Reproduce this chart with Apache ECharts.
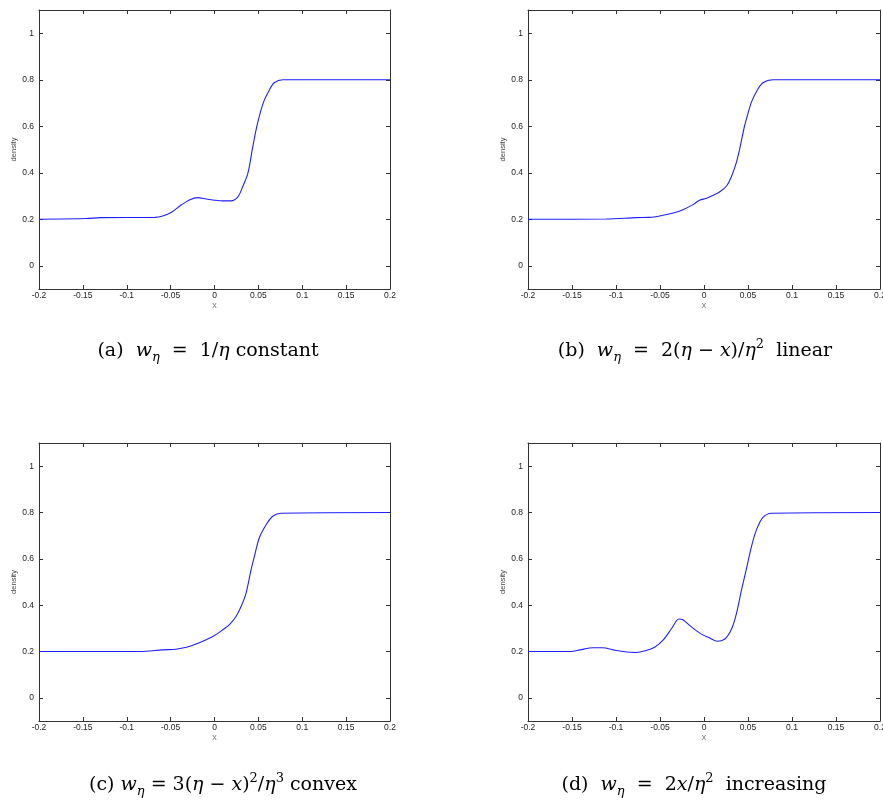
<!DOCTYPE html>
<html>
<head>
<meta charset="utf-8">
<script src="https://cdn.jsdelivr.net/npm/echarts@6/dist/echarts.min.js"></script>
<style>html,body{margin:0;padding:0;background:#fff}#c{width:883px;height:804px}</style>
</head>
<body>
<div id="c"></div>
<script>
// ---- data ----
const xA = [-0.2,-0.146,-0.13,-0.068,-0.059,-0.049,-0.038,-0.028,-0.019,-0.0095,0,0.0095,0.019,0.0266,0.032,0.038,0.0436,0.049,0.056,0.0626,0.068,0.078,0.2];
const yA = [0.2,0.203,0.207,0.208,0.214,0.230,0.261,0.284,0.293,0.287,0.282,0.279,0.279,0.296,0.339,0.397,0.511,0.612,0.705,0.756,0.787,0.800,0.8];

const xB = [-0.2,-0.111,-0.077,-0.062,-0.048,-0.035,-0.024,-0.012,-0.005,0.003,0.0104,0.018,0.0256,0.031,0.037,0.041,0.046,0.050,0.054,0.0600,0.067,0.0787,0.2];
const yB = [0.2,0.201,0.207,0.208,0.216,0.227,0.241,0.264,0.282,0.290,0.303,0.318,0.343,0.382,0.447,0.510,0.600,0.655,0.705,0.752,0.787,0.800,0.8];

const xC = [-0.2,-0.085,-0.059,-0.044,-0.032,-0.021,-0.0095,0,0.0095,0.017,0.0247,0.0304,0.036,0.0417,0.0455,0.051,0.059,0.0664,0.076,0.2];
const yC = [0.2,0.2,0.207,0.210,0.218,0.232,0.251,0.269,0.294,0.316,0.352,0.395,0.452,0.553,0.611,0.690,0.748,0.784,0.797,0.8];

const xD = [-0.2,-0.151,-0.141,-0.126,-0.115,-0.103,-0.092,-0.077,-0.065,-0.056,-0.046,-0.037,-0.0286,-0.024,-0.014,-0.003,0.0066,0.015,0.0237,0.0313,0.037,0.0427,0.048,0.054,0.0597,0.067,0.0768,0.2];
const yD = [0.2,0.2,0.207,0.216,0.216,0.207,0.2,0.196,0.205,0.218,0.251,0.298,0.340,0.337,0.305,0.275,0.258,0.244,0.254,0.297,0.366,0.467,0.553,0.654,0.726,0.779,0.797,0.8];

const xTicks = [-0.2,-0.15,-0.1,-0.05,0,0.05,0.1,0.15,0.2];
const yTicks = [0,0.2,0.4,0.6,0.8,1];
const xName = 'x';
const yName = 'density';

// ---- layout ----
const grids = [
  {left:39, top:10, width:351, height:279, outerBoundsMode:'none'},
  {left:528, top:10, width:352, height:279, outerBoundsMode:'none'},
  {left:39, top:443, width:351, height:278, outerBoundsMode:'none'},
  {left:528, top:443, width:352, height:278, outerBoundsMode:'none'}
];
const seriesX = [xA, xB, xC, xD];
const seriesY = [yA, yB, yC, yD];

const axisCol = '#333';
const tickFont = "'Liberation Sans Narrow','Liberation Sans',Arial,sans-serif";
const xAxes = [], yAxes = [], series = [];
grids.forEach((g, i) => {
  const common = {type:'value', gridIndex:i, splitLine:{show:false},
    axisLine:{show:true, onZero:false, lineStyle:{color:axisCol, width:1}}};
  xAxes.push(Object.assign({}, common, {position:'bottom', min:-0.2, max:0.2,
    name:xName, nameLocation:'middle', nameGap:12,
    nameTextStyle:{fontSize:9, color:'#777', fontFamily:tickFont},
    axisTick:{show:true, inside:true, length:4, customValues:xTicks, lineStyle:{color:axisCol}},
    axisLabel:{show:true, customValues:xTicks, margin:2, fontSize:8.5, color:'#222', fontFamily:tickFont}}));
  xAxes.push(Object.assign({}, common, {position:'top', min:-0.2, max:0.2,
    axisTick:{show:true, inside:true, length:4, customValues:xTicks, lineStyle:{color:axisCol}},
    axisLabel:{show:false}}));
  yAxes.push(Object.assign({}, common, {position:'left', min:-0.1, max:1.1,
    name:yName, nameLocation:'middle', nameGap:20, nameRotate:90,
    nameTextStyle:{fontSize:7.5, color:'#444', fontFamily:tickFont},
    axisTick:{show:true, inside:true, length:4, customValues:yTicks, lineStyle:{color:axisCol}},
    axisLabel:{show:true, customValues:yTicks, margin:5, fontSize:8.5, color:'#222', fontFamily:tickFont}}));
  yAxes.push(Object.assign({}, common, {position:'right', min:-0.1, max:1.1,
    axisTick:{show:true, inside:true, length:4, customValues:yTicks, lineStyle:{color:axisCol}},
    axisLabel:{show:false}}));
  series.push({type:'line', xAxisIndex:2*i, yAxisIndex:2*i, showSymbol:false, smooth:0.3,
    lineStyle:{color:'#1f1fff', width:1.1}, silent:true, animation:false,
    data: seriesX[i].map((x, k) => [x, seriesY[i][k]])});
});

// ---- captions ----
const serif = "'DejaVu Serif','Liberation Serif',serif";
const rich = {
  n:{fontFamily:serif, fontSize:19, lineHeight:26, color:'#111'},
  i:{fontFamily:serif, fontSize:19, lineHeight:26, fontStyle:'italic', color:'#111'},
  sub:{fontFamily:serif, fontSize:13, lineHeight:13, fontStyle:'italic', verticalAlign:'bottom', color:'#111'},
  sup:{fontFamily:serif, fontSize:13, lineHeight:13, verticalAlign:'top', color:'#111'}
};
const captions = [
  {x:208, y:351, t:'{n|(a)  }{i|w}{sub|η}{n|  =  1/}{i|η}{n| constant}'},
  {x:695, y:351, t:'{n|(b)  }{i|w}{sub|η}{n|  =  2(}{i|η}{n| − }{i|x}{n|)/}{i|η}{sup|2}{n|  linear}'},
  {x:223, y:785, t:'{n|(c) }{i|w}{sub|η}{n| = 3(}{i|η}{n| − }{i|x}{n|)}{sup|2}{n|/}{i|η}{sup|3}{n| convex}'},
  {x:694, y:785, t:'{n|(d)  }{i|w}{sub|η}{n|  =  2}{i|x}{n|/}{i|η}{sup|2}{n|  increasing}'}
];
const graphics = captions.map(c => ({type:'text', x:c.x, y:c.y, silent:true,
  style:{text:c.t, rich:rich, align:'center', verticalAlign:'middle'}}));

const chart = echarts.init(document.getElementById('c'), null, {renderer:'canvas'});
chart.setOption({
  animation:false,
  backgroundColor:'#fff',
  grid: grids,
  xAxis: xAxes,
  yAxis: yAxes,
  series: series,
  graphic: graphics
});
</script>
</body>
</html>
